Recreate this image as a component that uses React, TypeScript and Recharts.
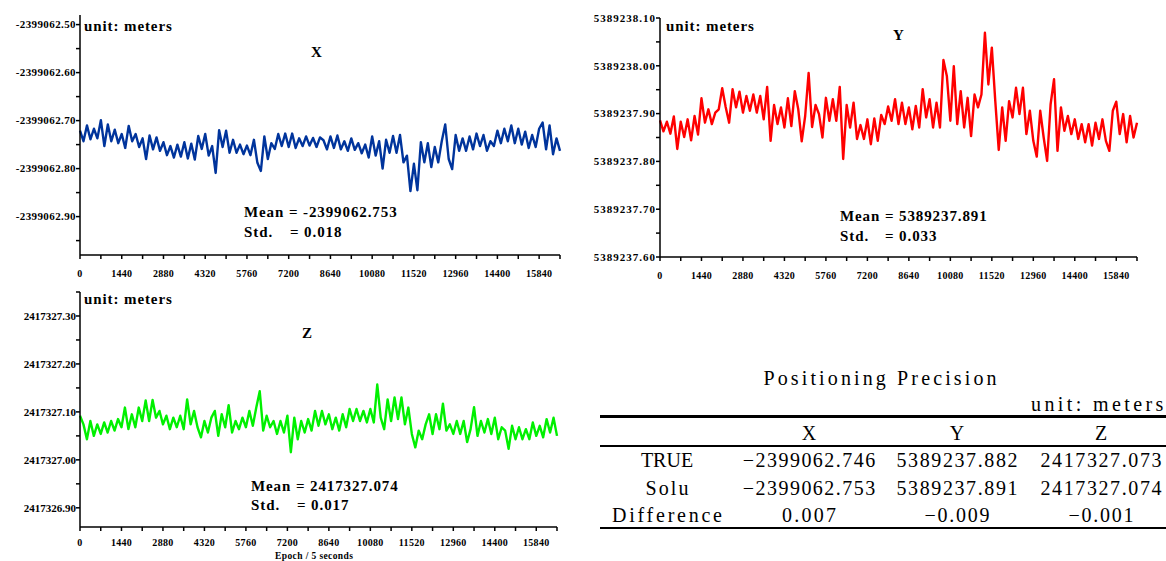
import React from "react";
import { LineChart, Line, XAxis, YAxis } from "recharts";

// sampling grid of the traces (epochs, 5 s each)
const EPOCH_STEP = 120;

const epochTicks = [
  0, 720, 1440, 2160, 2880, 3600, 4320, 5040, 5760, 6480, 7200, 7920,
  8640, 9360, 10080, 10800, 11520, 12240, 12960, 13680, 14400, 15120, 15840, 16560,
];

const xTicks = [
  -2399062.95, -2399062.9, -2399062.85, -2399062.8, -2399062.75, -2399062.7,
  -2399062.65, -2399062.6, -2399062.55, -2399062.5,
];
const yTicks = [
  5389237.6, 5389237.65, 5389237.7, 5389237.75, 5389237.8, 5389237.85,
  5389237.9, 5389237.95, 5389238.0, 5389238.05, 5389238.1,
];
const zTicks = [
  2417326.9, 2417326.95, 2417327.0, 2417327.05, 2417327.1, 2417327.15,
  2417327.2, 2417327.25, 2417327.3, 2417327.35,
];

// X component (m)
const xValues = [
  -2399062.721, -2399062.743, -2399062.71, -2399062.739, -2399062.717, -2399062.737, -2399062.699, -2399062.753, -2399062.708, -2399062.743,
  -2399062.719, -2399062.747, -2399062.728, -2399062.757, -2399062.711, -2399062.743, -2399062.728, -2399062.755, -2399062.737, -2399062.78,
  -2399062.731, -2399062.76, -2399062.735, -2399062.763, -2399062.745, -2399062.772, -2399062.753, -2399062.777, -2399062.75, -2399062.775,
  -2399062.745, -2399062.779, -2399062.748, -2399062.781, -2399062.732, -2399062.759, -2399062.728, -2399062.773, -2399062.753, -2399062.809,
  -2399062.72, -2399062.755, -2399062.721, -2399062.767, -2399062.74, -2399062.767, -2399062.75, -2399062.77, -2399062.752, -2399062.772,
  -2399062.74, -2399062.788, -2399062.805, -2399062.733, -2399062.78, -2399062.747, -2399062.759, -2399062.728, -2399062.753, -2399062.727,
  -2399062.755, -2399062.727, -2399062.757, -2399062.737, -2399062.753, -2399062.733, -2399062.752, -2399062.736, -2399062.755, -2399062.735,
  -2399062.741, -2399062.76, -2399062.733, -2399062.757, -2399062.731, -2399062.76, -2399062.743, -2399062.763, -2399062.737, -2399062.761,
  -2399062.747, -2399062.768, -2399062.75, -2399062.777, -2399062.733, -2399062.773, -2399062.743, -2399062.8, -2399062.74, -2399062.767,
  -2399062.732, -2399062.767, -2399062.73, -2399062.787, -2399062.773, -2399062.847, -2399062.79, -2399062.845, -2399062.745, -2399062.787,
  -2399062.747, -2399062.797, -2399062.755, -2399062.787, -2399062.743, -2399062.708, -2399062.78, -2399062.801, -2399062.73, -2399062.763,
  -2399062.737, -2399062.763, -2399062.733, -2399062.76, -2399062.727, -2399062.753, -2399062.73, -2399062.763, -2399062.743, -2399062.753,
  -2399062.721, -2399062.747, -2399062.717, -2399062.743, -2399062.71, -2399062.747, -2399062.717, -2399062.75, -2399062.723, -2399062.757,
  -2399062.73, -2399062.755, -2399062.717, -2399062.704, -2399062.76, -2399062.71, -2399062.77, -2399062.737, -2399062.763,
];

// Y component (m)
const yValues = [
  5389237.886, 5389237.863, 5389237.883, 5389237.858, 5389237.894, 5389237.826, 5389237.883, 5389237.851, 5389237.888, 5389237.844,
  5389237.895, 5389237.856, 5389237.932, 5389237.881, 5389237.909, 5389237.878, 5389237.902, 5389237.909, 5389237.953, 5389237.914,
  5389237.881, 5389237.951, 5389237.913, 5389237.946, 5389237.902, 5389237.937, 5389237.906, 5389237.94, 5389237.902, 5389237.937,
  5389237.888, 5389237.956, 5389237.843, 5389237.918, 5389237.878, 5389237.913, 5389237.871, 5389237.932, 5389237.874, 5389237.947,
  5389237.909, 5389237.842, 5389237.895, 5389237.985, 5389237.872, 5389237.918, 5389237.899, 5389237.85, 5389237.933, 5389237.885,
  5389237.93, 5389237.885, 5389237.956, 5389237.805, 5389237.918, 5389237.871, 5389237.923, 5389237.847, 5389237.876, 5389237.847,
  5389237.888, 5389237.836, 5389237.89, 5389237.843, 5389237.897, 5389237.878, 5389237.915, 5389237.885, 5389237.93, 5389237.878,
  5389237.923, 5389237.878, 5389237.913, 5389237.867, 5389237.916, 5389237.871, 5389237.951, 5389237.892, 5389237.93, 5389237.871,
  5389237.923, 5389237.871, 5389238.012, 5389237.978, 5389237.885, 5389237.999, 5389237.878, 5389237.947, 5389237.871, 5389237.933,
  5389237.853, 5389237.94, 5389237.913, 5389237.94, 5389238.069, 5389237.961, 5389238.038, 5389237.926, 5389237.824, 5389237.913,
  5389237.843, 5389237.926, 5389237.892, 5389237.954, 5389237.899, 5389237.954, 5389237.857, 5389237.906, 5389237.843, 5389237.81,
  5389237.906, 5389237.85, 5389237.801, 5389237.919, 5389237.972, 5389237.822, 5389237.913, 5389237.864, 5389237.895, 5389237.857,
  5389237.888, 5389237.847, 5389237.878, 5389237.84, 5389237.878, 5389237.833, 5389237.881, 5389237.847, 5389237.888, 5389237.843,
  5389237.822, 5389237.906, 5389237.925, 5389237.857, 5389237.899, 5389237.84, 5389237.895, 5389237.85, 5389237.881,
];

// Z component (m)
const zValues = [
  2417327.092, 2417327.074, 2417327.043, 2417327.081, 2417327.05, 2417327.074, 2417327.054, 2417327.078, 2417327.057, 2417327.081,
  2417327.061, 2417327.085, 2417327.068, 2417327.109, 2417327.064, 2417327.095, 2417327.068, 2417327.109, 2417327.081, 2417327.124,
  2417327.081, 2417327.125, 2417327.088, 2417327.102, 2417327.074, 2417327.092, 2417327.064, 2417327.088, 2417327.068, 2417327.092,
  2417327.064, 2417327.126, 2417327.074, 2417327.102, 2417327.068, 2417327.047, 2417327.081, 2417327.057, 2417327.088, 2417327.102,
  2417327.05, 2417327.095, 2417327.068, 2417327.114, 2417327.057, 2417327.081, 2417327.064, 2417327.088, 2417327.068, 2417327.102,
  2417327.071, 2417327.109, 2417327.143, 2417327.061, 2417327.092, 2417327.068, 2417327.081, 2417327.054, 2417327.081, 2417327.057,
  2417327.092, 2417327.016, 2417327.088, 2417327.043, 2417327.081, 2417327.057, 2417327.085, 2417327.061, 2417327.102, 2417327.071,
  2417327.102, 2417327.074, 2417327.095, 2417327.064, 2417327.088, 2417327.061, 2417327.095, 2417327.068, 2417327.106, 2417327.081,
  2417327.106, 2417327.081, 2417327.102, 2417327.078, 2417327.106, 2417327.078, 2417327.157, 2417327.088, 2417327.064, 2417327.126,
  2417327.081, 2417327.13, 2417327.085, 2417327.13, 2417327.074, 2417327.109, 2417327.054, 2417327.026, 2417327.061, 2417327.043,
  2417327.074, 2417327.095, 2417327.054, 2417327.095, 2417327.064, 2417327.117, 2417327.061, 2417327.074, 2417327.054, 2417327.081,
  2417327.054, 2417327.081, 2417327.037, 2417327.064, 2417327.11, 2417327.05, 2417327.081, 2417327.057, 2417327.085, 2417327.054,
  2417327.088, 2417327.043, 2417327.068, 2417327.061, 2417327.023, 2417327.071, 2417327.043, 2417327.068, 2417327.043, 2417327.064,
  2417327.043, 2417327.078, 2417327.05, 2417327.071, 2417327.047, 2417327.085, 2417327.057, 2417327.088, 2417327.05,
];

const tableTitle = "Positioning Precision";
const tableUnit = "unit: meters";
const tableColumns = ["X", "Y", "Z"];
const tableRows = [
  { label: "TRUE", cells: ["\u22122399062.746", "5389237.882", "2417327.073"] },
  { label: "Solu", cells: ["\u22122399062.753", "5389237.891", "2417327.074"] },
  { label: "Difference", cells: ["0.007", "\u22120.009", "\u22120.001"] },
];

const serif = '"Liberation Serif", "Times New Roman", serif';

const toSeries = (values: number[]) =>
  values.map((v, i) => ({ epoch: i * EPOCH_STEP, v }));

const makeYTick = (spacing: number) => (props: any) => {
  const { x, y, payload } = props;
  const v = payload.value as number;
  if (Math.round(Math.abs(v) * 100) % 10 !== 0) return <g />;
  return (
    <text
      x={x}
      y={y}
      dy="0.35em"
      textAnchor="end"
      fontFamily={serif}
      fontWeight="bold"
      fontSize={11}
      letterSpacing={spacing}
      fill="#000"
    >
      {v.toFixed(2)}
    </text>
  );
};

const XTick = (props: any) => {
  const { x, y, payload } = props;
  const v = payload.value as number;
  if (v % 1440 !== 0 || v > 15840) return <g />;
  return (
    <text
      x={x}
      y={y}
      dy="0.71em"
      textAnchor="middle"
      fontFamily={serif}
      fontWeight="bold"
      fontSize={10}
      letterSpacing={0.3}
      fill="#000"
    >
      {v}
    </text>
  );
};

interface PanelProps {
  values: number[];
  color: string;
  domain: [number, number];
  ticks: number[];
  width: number;
  height: number;
  margin: { top: number; right: number; left: number; bottom: number };
  xAxisHeight: number;
  xTickMargin: number;
  spacing: number;
}

function Panel({ values, color, domain, ticks, width, height, margin, xAxisHeight, xTickMargin, spacing }: PanelProps) {
  const axisStroke = { stroke: "#000", strokeWidth: 1.5 };
  return (
    <LineChart width={width} height={height} data={toSeries(values)} margin={margin}>
      <XAxis
        type="number"
        dataKey="epoch"
        domain={[0, 16560]}
        ticks={epochTicks}
        interval={0}
        tickSize={4}
        tickMargin={xTickMargin}
        height={xAxisHeight}
        axisLine={axisStroke}
        tickLine={axisStroke}
        tick={XTick}
      />
      <YAxis
        type="number"
        domain={domain}
        ticks={ticks}
        interval={0}
        allowDataOverflow
        width={80}
        tickSize={4}
        tickMargin={0}
        axisLine={axisStroke}
        tickLine={axisStroke}
        tick={makeYTick(spacing)}
      />
      <Line
        type="linear"
        dataKey="v"
        stroke={color}
        strokeWidth={2.4}
        strokeLinejoin="round"
        dot={false}
        isAnimationActive={false}
      />
    </LineChart>
  );
}

const bold15: React.CSSProperties = {
  position: "absolute",
  fontFamily: serif,
  fontWeight: "bold",
  fontSize: 15,
  lineHeight: "16px",
  letterSpacing: 0.9,
  color: "#000",
  whiteSpace: "nowrap",
};

const Txt = ({ left, top, children, style }: any) => (
  <div style={{ ...bold15, left, top, ...style }}>{children}</div>
);

// half-width character pitch of the table font
const PITCH = 11.2;
const colCenter = [667, 809, 957, 1101];
const rowY = [460, 488, 515];

const Cell = ({ x, y, text, anchor = "middle", fit = true }: any) => (
  <text
    x={x}
    y={y}
    dy="0.35em"
    textAnchor={anchor}
    fontFamily={serif}
    fontSize={20}
    fill="#000"
    textLength={fit ? text.length * PITCH - 2 : undefined}
    lengthAdjust={fit ? "spacing" : undefined}
  >
    {text}
  </text>
);

function PrecisionTable() {
  return (
    <svg
      width={1166}
      height={561}
      style={{ position: "absolute", left: 0, top: 0 }}
    >
      <Cell x={880} y={378} text={tableTitle} />
      <Cell x={1031} y={404} text={tableUnit} anchor="start" />
      <rect x={600} y={415} width={566} height={3} fill="#000" />
      <rect x={600} y={445} width={566} height={2} fill="#000" />
      <rect x={600} y={527} width={566} height={2} fill="#000" />
      {tableColumns.map((c, j) => (
        <Cell key={c} x={colCenter[j + 1]} y={433} text={c} fit={false} />
      ))}
      {tableRows.map((r, i) => (
        <g key={r.label}>
          <Cell x={colCenter[0]} y={rowY[i]} text={r.label} fit={r.label !== "TRUE"} />
          {r.cells.map((c, j) => (
            <Cell key={j} x={colCenter[j + 1]} y={rowY[i]} text={c} />
          ))}
        </g>
      ))}
    </svg>
  );
}

export default function App() {
  return (
    <div
      style={{
        position: "absolute",
        left: 0,
        top: 0,
        width: 1166,
        height: 561,
        overflow: "hidden",
        background: "#fff",
      }}
    >
      <div style={{ position: "absolute", left: 0, top: 0 }}>
        <Panel
          values={xValues}
          color="#00349c"
          domain={[-2399062.98, -2399062.48]}
          ticks={xTicks}
          width={570}
          height={285}
          margin={{ top: 15, right: 10, left: 0, bottom: 0 }}
          xAxisHeight={30}
          xTickMargin={11}
          spacing={0.4}
        />
      </div>
      <div style={{ position: "absolute", left: 580, top: 0 }}>
        <Panel
          values={yValues}
          color="#ff0000"
          domain={[5389237.6, 5389238.1]}
          ticks={yTicks}
          width={586}
          height={285}
          margin={{ top: 18, right: 29, left: 0, bottom: 0 }}
          xAxisHeight={28}
          xTickMargin={11}
          spacing={1}
        />
      </div>
      <div style={{ position: "absolute", left: 0, top: 280 }}>
        <Panel
          values={zValues}
          color="#00f000"
          domain={[2417326.86, 2417327.35]}
          ticks={zTicks}
          width={570}
          height={281}
          margin={{ top: 12, right: 13, left: 0, bottom: 0 }}
          xAxisHeight={34}
          xTickMargin={8}
          spacing={0}
        />
      </div>

      <Txt left={84} top={18}>unit: meters</Txt>
      <Txt left={311} top={44}>X</Txt>
      <Txt left={244} top={204}>Mean = -2399062.753</Txt>
      <Txt left={244} top={224}>Std.</Txt>
      <Txt left={290} top={224}>= 0.018</Txt>

      <Txt left={666} top={18}>unit: meters</Txt>
      <Txt left={893} top={27}>Y</Txt>
      <Txt left={840} top={208}>Mean = 5389237.891</Txt>
      <Txt left={840} top={228}>Std.</Txt>
      <Txt left={885} top={228}>= 0.033</Txt>

      <Txt left={84} top={291}>unit: meters</Txt>
      <Txt left={302} top={325}>Z</Txt>
      <Txt left={251} top={478}>Mean = 2417327.074</Txt>
      <Txt left={251} top={497}>Std.</Txt>
      <Txt left={297} top={497}>= 0.017</Txt>
      <Txt left={275} top={551} style={{ fontSize: 9.5, lineHeight: "10px", letterSpacing: 0.4 }}>
        Epoch / 5 seconds
      </Txt>

      <PrecisionTable />
    </div>
  );
}
